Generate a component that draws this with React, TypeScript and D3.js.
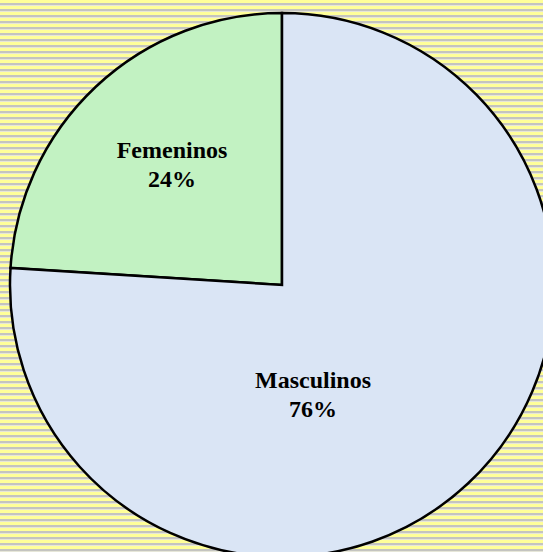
import React from "react";
import * as d3 from "d3";

const categories = ["Femeninos", "Masculinos"];
const values = [24, 76];
const labels = ["24%", "76%"];
const colors = ["#C2F2C2", "#DAE5F5"];
// label anchor: [radius fraction, angle (radians from 12 o'clock)]
const labelAnchors: [number, number][] = [[0.601, -0.738], [0.4166, 2.8646]];

export default function App() {
  const W = 543, H = 552;
  const cx = 282, cy = 285, r = 272;
  const pie = d3.pie<number>().sort(null).startAngle(-2 * Math.PI * 0.24).endAngle(2 * Math.PI * 0.76);
  const arcs = pie(values);
  const arc = d3.arc<d3.PieArcDatum<number>>().innerRadius(0).outerRadius(r);
  return (
    <svg width={W} height={H} style={{ position: "absolute", left: 0, top: 0 }}>
      <defs>
        <pattern id="stripes" width="6" height="6" patternUnits="userSpaceOnUse">
          <rect x="0" y="0" width="6" height="3" fill="#FFFF99" />
          <rect x="0" y="3" width="6" height="2" fill="#C4C4C0" />
          <rect x="0" y="5" width="6" height="1" fill="#E6E6D8" />
        </pattern>
      </defs>
      <rect width={W} height={H} fill="url(#stripes)" />
      <g transform={`translate(${cx},${cy})`}>
        {arcs.map((a, i) => (
          <path key={categories[i]} d={arc(a) || ""} fill={colors[i]} stroke="#000" strokeWidth={2.5} strokeLinejoin="miter" />
        ))}
        {arcs.map((a, i) => {
          const [k, ang] = labelAnchors[i];
          const x = Math.sin(ang) * r * k;
          const y = -Math.cos(ang) * r * k;
          return (
            <text key={"t" + i} x={x} y={y} textAnchor="middle" fontFamily="'Liberation Serif', 'Times New Roman', serif" fontWeight="bold" fontSize={24} fill="#000">
              <tspan x={x} dy={-6}>{categories[i]}</tspan>
              <tspan x={x} dy={29}>{labels[i]}</tspan>
            </text>
          );
        })}
      </g>
    </svg>
  );
}
